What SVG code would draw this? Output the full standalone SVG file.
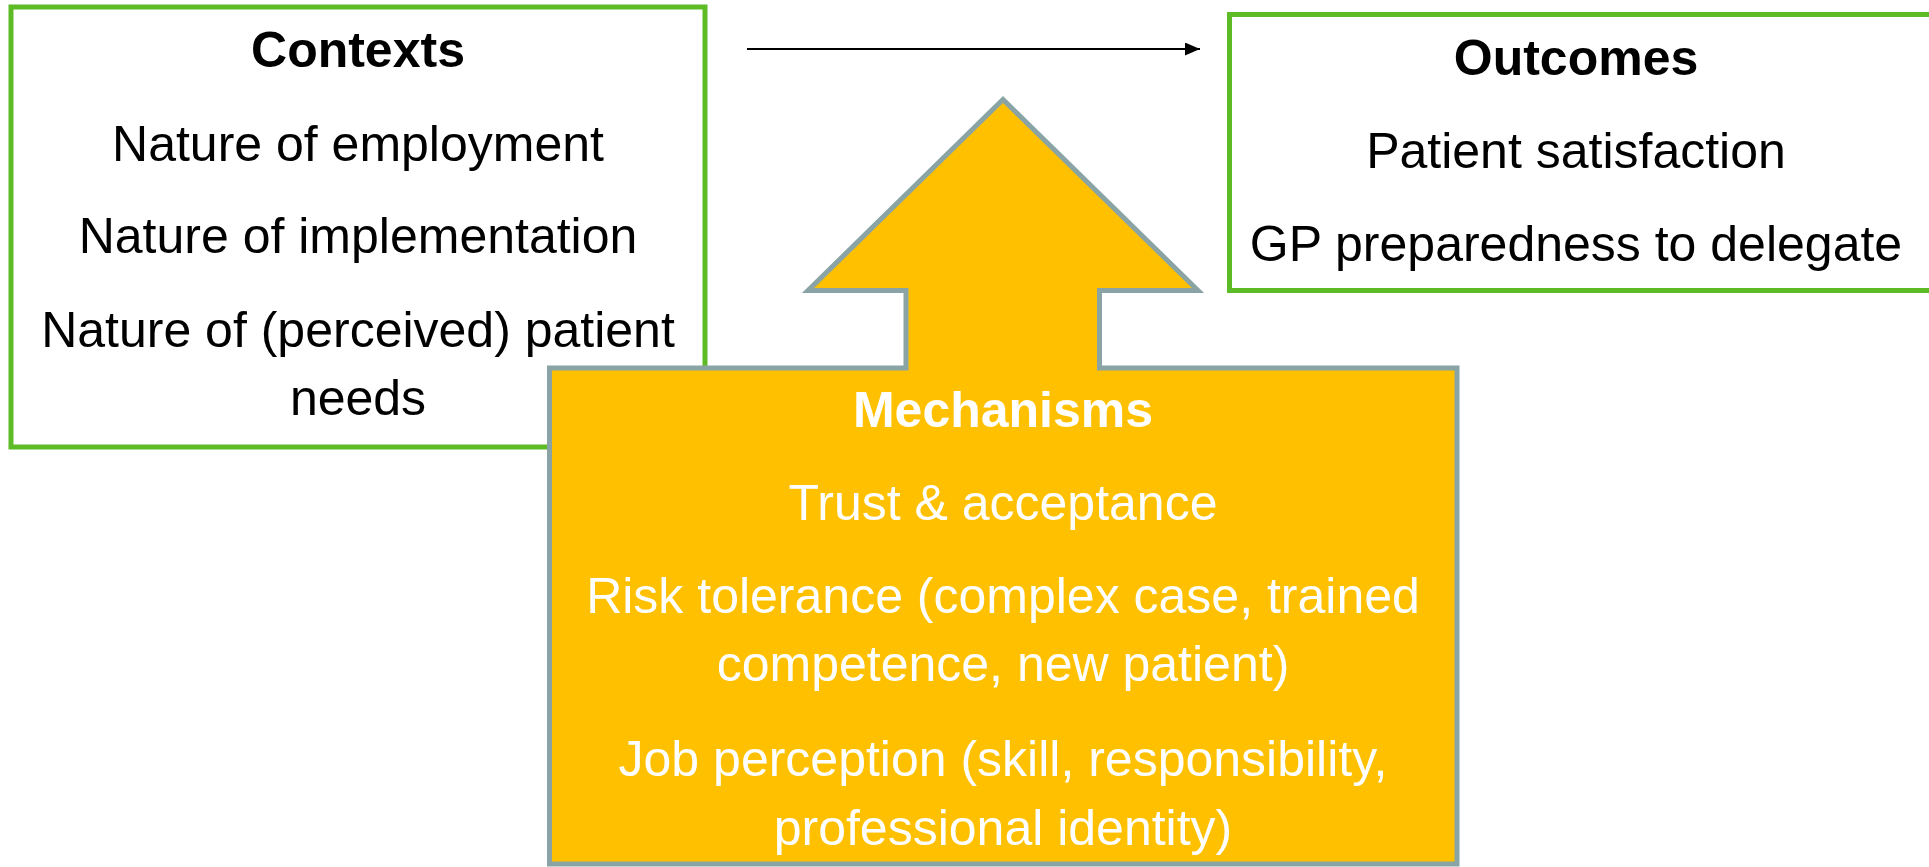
<svg xmlns="http://www.w3.org/2000/svg" width="1929" height="867" viewBox="0 0 1929 867">
<style>
.box{fill:#ffffff;stroke:#5dbb26;stroke-width:5}
.mech{fill:#ffc000;stroke:#8aa4a5;stroke-width:5;stroke-linejoin:miter}
text{font-family:"Liberation Sans",Arial,sans-serif;font-size:50px;text-anchor:middle}
.h{font-weight:bold}
.dark{fill:#000000}
.light{fill:#ffffff}
.conn{stroke:#000000;stroke-width:2;fill:none}
</style>
<defs>
<marker id="arr" markerWidth="15" markerHeight="13" refX="15" refY="6.5" orient="auto" markerUnits="userSpaceOnUse">
<path d="M0,0 L15,6.5 L0,13 Z" fill="#000000"/>
</marker>
</defs>
<rect width="1929" height="867" fill="#ffffff"/>
<g id="contexts">
<rect class="box" x="11" y="7" width="694" height="440"/>
<text class="h dark" x="358" y="67">Contexts</text>
<text class="dark" x="358" y="161">Nature of employment</text>
<text class="dark" x="358" y="253">Nature of implementation</text>
<text class="dark" x="358" y="347">Nature of (perceived) patient</text>
<text class="dark" x="358" y="415">needs</text>
</g>
<g id="outcomes">
<rect class="box" x="1229.5" y="14.5" width="1693" height="276"/>
<text class="h dark" x="1576" y="75">Outcomes</text>
<text class="dark" x="1576" y="168">Patient satisfaction</text>
<text class="dark" x="1576" y="261">GP preparedness to delegate</text>
</g>
<g id="connectors">
<line class="conn" x1="747" y1="49" x2="1200" y2="49" marker-end="url(#arr)"/>
</g>
<g id="mechanisms">
<path class="mech" d="M549.5,368 L906,368 L906,290.5 L808,290.5 L1003,99.5 L1198,290.5 L1099.5,290.5 L1099.5,368 L1457,368 L1457,864 L549.5,864 Z"/>
<text class="h light" x="1003" y="427">Mechanisms</text>
<text class="light" x="1003" y="520">Trust &amp; acceptance</text>
<text class="light" x="1003" y="613">Risk tolerance (complex case, trained</text>
<text class="light" x="1003" y="681">competence, new patient)</text>
<text class="light" x="1003" y="776">Job perception (skill, responsibility,</text>
<text class="light" x="1003" y="845">professional identity)</text>
</g>
</svg>
